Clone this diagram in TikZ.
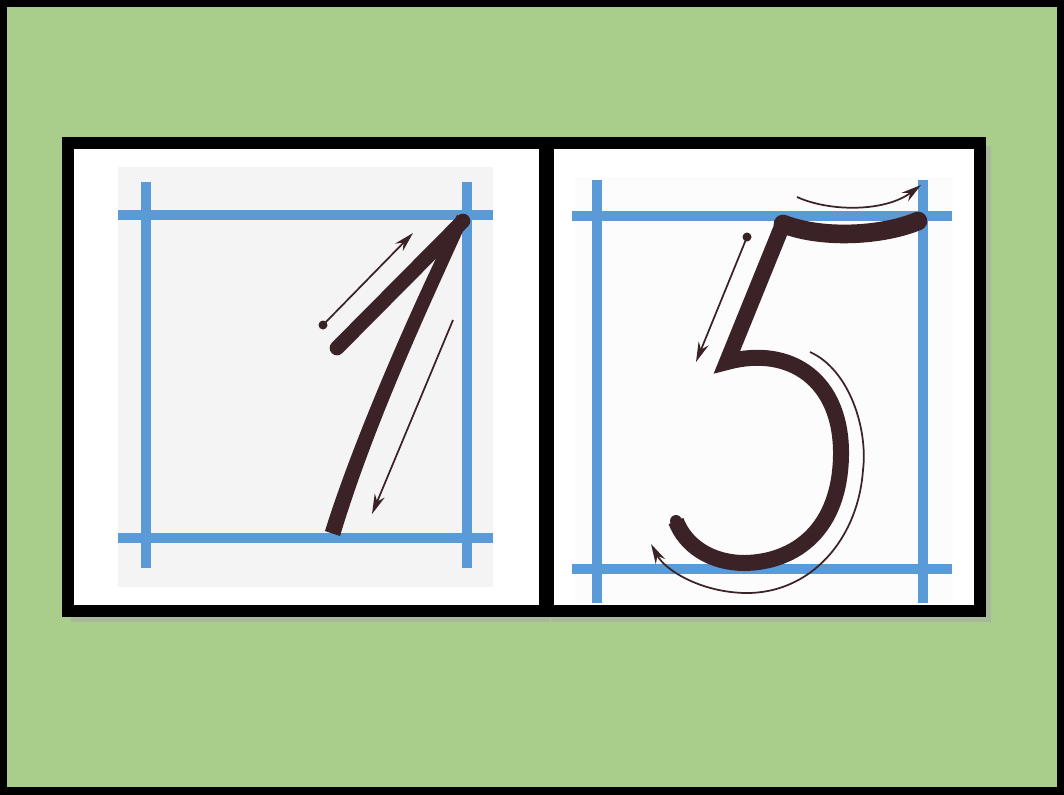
\documentclass[tikz,border=0pt]{standalone}
\usetikzlibrary{arrows.meta}
\definecolor{bg}{HTML}{A9CE8C}
\definecolor{guide}{HTML}{5A9AD6}
\definecolor{ink}{HTML}{3B2226}
\definecolor{paper}{HTML}{F4F4F5}
\tikzset{
  guideline/.style={guide, line width=7},
  stroke/.style={ink, line width=12, line cap=round, line join=round},
  hint/.style={ink, line width=1.3, -{Stealth[length=15, width=8]}},
  hintdot/.style={fill=ink, draw=none},
  frame/.style={draw=black, line width=9, fill=white},
}
\begin{document}
\begin{tikzpicture}[x=0.75pt, y=-0.75pt]
\useasboundingbox (0,0) rectangle (1064,794);
% background
\fill[bg] (0,0) rectangle (1064,794);
\draw[black, line width=6] (3,3) rectangle (1061,791);
% shadows
\fill[black!35, opacity=0.5] (71,146) rectangle (550,622);
\fill[black!35, opacity=0.5] (551,146) rectangle (991,622);
% frames
\draw[frame] (68,143) rectangle (545,611);
\draw[frame] (548,143) rectangle (980,611);
% paper areas
\fill[paper] (118,167) rectangle (493,587);
\fill[paper!30!white] (575,177) rectangle (953,603);
% guides left
\draw[guideline] (146,182) -- (146,568);
\draw[guideline] (467,182) -- (467,568);
\draw[guideline] (118,215) -- (493,215);
\draw[guideline] (118,538) -- (493,538);
% guides right
\draw[guideline] (597,180) -- (597,603);
\draw[guideline] (923,180) -- (923,603);
\draw[guideline] (572,216) -- (952,216);
\draw[guideline] (572,569) -- (952,569);
% digit 1
\coordinate (oneTop) at (463,221);
\coordinate (oneStart) at (337,348);
\draw[stroke, line width=11] (oneStart) -- (oneTop);
\fill[ink] (457,215) -- (468,220)
  .. controls (432,300) and (375,420) .. (340,536)
  -- (325,531)
  .. controls (350,450) and (405,320) .. (457,215) -- cycle;
% hints for 1
\coordinate (d1) at (323,325);
\coordinate (a1) at (413,233);
\fill[hintdot] (d1) circle (4.5);
\draw[hint] (d1) -- (a1);
\coordinate (b1) at (453,320);
\coordinate (c1) at (372,514);
\draw[hint] (b1) -- (c1);
% digit 5
\coordinate (fTopR) at (918,221);
\coordinate (fTopL) at (783,224);
\coordinate (fKnee) at (727,362);
\coordinate (fEnd) at (676,521);
\draw[stroke, line width=14] (fTopR) .. controls (885,235) and (825,240) .. (fTopL);
\draw[stroke, line width=12, line cap=butt, line join=miter] (fTopL) -- (fKnee)
  .. controls (790,345) and (842,380) .. (841,455)
  .. controls (840,530) and (795,562) .. (745,563)
  .. controls (710,563) and (685,545) .. (fEnd);
\fill[ink] (fEnd) circle (6);
\fill[ink] (777,217) -- (790,217) -- (788,232) -- (776,232) -- cycle;
% hints for 5
\coordinate (d5) at (747,237);
\coordinate (a5) at (696,362);
\fill[hintdot] (d5) circle (4.5);
\draw[hint] (d5) -- (a5);
\coordinate (t5s) at (797,197);
\coordinate (t5e) at (921,185);
\draw[hint] (t5s) .. controls (830,212) and (885,212) .. (t5e);
\coordinate (b5s) at (810,352);
\coordinate (b5e) at (651,544);
\draw[hint] (b5s) .. controls (850,370) and (868,430) .. (863,470)
  .. controls (858,540) and (810,594) .. (745,593)
  .. controls (700,592) and (665,570) .. (b5e);
\end{tikzpicture}
\end{document}
